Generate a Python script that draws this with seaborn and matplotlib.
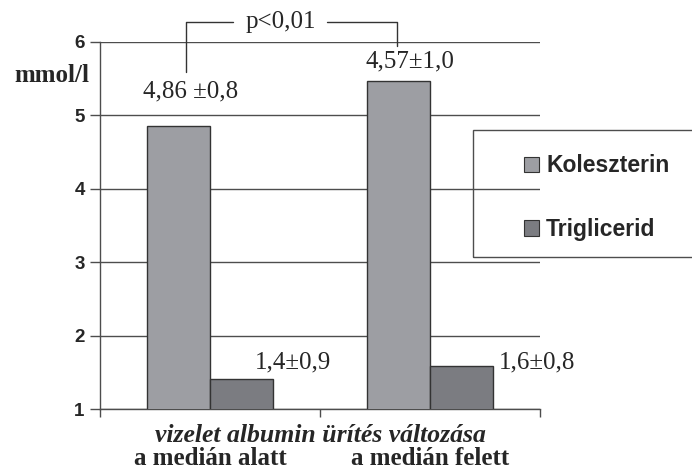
import matplotlib
matplotlib.use("Agg")
import matplotlib.pyplot as plt
from matplotlib.patches import Rectangle, Patch
import seaborn as sns
import pandas as pd

groups = ["a medián alatt", "a medián felett"]
series = ["Koleszterin", "Triglicerid"]
kolesz = [4.86, 5.47]
trigl = [1.41, 1.59]
labels_k = ["4,86 ±0,8", "4,57±1,0"]
labels_t = ["1,4±0,9", "1,6±0,8"]
ptext = "p<0,01"
xtitle = "vizelet albumin ürítés változása"
ylab = "mmol/l"
yticks = [1, 2, 3, 4, 5, 6]

df = pd.DataFrame({
    "group": groups * 2,
    "series": [series[0]] * 2 + [series[1]] * 2,
    "value": kolesz + trigl,
})

sns.set_style("white")
serif = ["Liberation Serif", "DejaVu Serif"]
sans = ["Liberation Sans", "DejaVu Sans"]

fig = plt.figure(figsize=(6.92, 4.72), dpi=100)
ax = fig.add_axes([100 / 692, 1 - 409 / 472, 440 / 692, 367 / 472])
colors = ["#9d9ea3", "#7b7c81"]
sns.barplot(data=df, x="group", y="value", hue="series", palette=colors,
            width=0.57, edgecolor="#333333", linewidth=1, saturation=1,
            ax=ax, zorder=3, legend=False)

ax.set_xlim(-0.5, 1.5)
ax.set_ylim(1, 6)
ax.set_yticks(yticks)
ax.set_yticklabels([str(t) for t in yticks], fontsize=13.5, fontweight="bold",
                   family=sans)
ax.yaxis.grid(True, color="#4d4d4d", linewidth=1, zorder=0)
ax.set_axisbelow(True)
for s in ["top", "right"]:
    ax.spines[s].set_visible(False)
for s in ["left", "bottom"]:
    ax.spines[s].set_color("#4d4d4d")
    ax.spines[s].set_linewidth(1)
ax.tick_params(axis="y", length=7, width=1, color="#4d4d4d", pad=4, left=True)
ax.set_xticks([-0.5, 0.5, 1.5])
ax.set_xticklabels(["", "", ""])
ax.tick_params(axis="x", length=6, width=1, color="#4d4d4d", bottom=True)
ax.set_xlabel("")
ax.set_ylabel("")

# category labels
for i, g in enumerate(groups):
    ax.text(i, -0.135, g, transform=ax.get_xaxis_transform(), ha="center",
            va="center", fontsize=18, fontweight="bold", family=serif)
fig.text(320 / 692, 1 - 436 / 472, xtitle, ha="center", va="center",
         fontsize=18.5, fontweight="bold", style="italic", family=serif)
fig.text(52 / 692, 1 - 75 / 472, ylab, ha="center", va="center",
         fontsize=18, fontweight="bold", family=serif)

# value annotations
fs = 18
ax.text(-0.09, 5.32, labels_k[0], ha="center", va="center", fontsize=fs, family=serif)
ax.text(0.909, 5.73, labels_k[1], ha="center", va="center", fontsize=fs, family=serif)
ax.text(0.377, 1.63, labels_t[0], ha="center", va="center", fontsize=fs, family=serif)
ax.text(1.487, 1.63, labels_t[1], ha="center", va="center", fontsize=fs, family=serif)

# significance bracket
lc = "#333333"
ax.plot([-0.109, -0.109, 0.105], [5.59, 6.27, 6.27], color=lc, lw=1, clip_on=False)
ax.plot([0.532, 0.85, 0.85], [6.27, 6.27, 5.95], color=lc, lw=1, clip_on=False)
ax.text(0.32, 6.27, ptext, ha="center", va="center", fontsize=fs, family=serif,
        clip_on=False)

# legend
fig.patches.append(Rectangle((473 / 692, 1 - 257 / 472), 230 / 692, 127 / 472,
                             transform=fig.transFigure, fill=False,
                             edgecolor="#4d4d4d", linewidth=1))
handles = [Patch(facecolor=c, edgecolor="#333333", linewidth=0.8) for c in colors]
leg = fig.legend(handles, series, loc="upper left",
                 bbox_to_anchor=(513 / 692, 1 - 143 / 472), frameon=False,
                 prop={"family": sans, "weight": "bold", "size": 16.5},
                 handlelength=0.65, handleheight=0.65, handletextpad=0.3,
                 labelspacing=1.77, borderpad=0)

fig.savefig("out.png", dpi=100)
